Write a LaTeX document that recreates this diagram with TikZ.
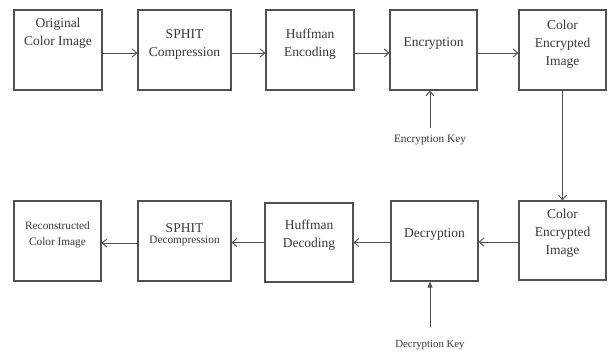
\documentclass[tikz,border=0pt]{standalone}
\usepackage{fontspec}
\setmainfont{Liberation Serif}
\usetikzlibrary{arrows.meta}
\definecolor{ln}{HTML}{505050}
\definecolor{tx}{HTML}{383838}
\begin{document}
\begin{tikzpicture}[x=1pt,y=-1pt,
  blk/.style={draw=ln,line width=1.2pt,minimum height=80pt,inner sep=0pt,fill=white},
  big/.style={text=tx,align=center,font=\fontsize{13.5}{18}\selectfont},
  small/.style={text=tx,align=center,font=\fontsize{11.3}{16}\selectfont},
  arr/.style={draw=ln,line width=0.9pt,-{Straight Barb[length=4.5pt,width=8pt,line width=0.9pt]}},
  farr/.style={draw=ln,line width=0.9pt,-{Triangle[length=6pt,width=5pt]}}]
\useasboundingbox (0,0) rectangle (608,351);
\fill[white] (0,0) rectangle (608,351);
% top row boxes
\node[blk,minimum width=88pt] (b1) at (58,50) {};
\node[blk,minimum width=93pt] (b2) at (184.5,50) {};
\node[blk,minimum width=88pt] (b3) at (310,50) {};
\node[blk,minimum width=87pt] (b4) at (433.5,50) {};
\node[blk,minimum width=87pt] (b5) at (562.5,50) {};
% bottom row boxes
\node[blk,minimum width=87pt,minimum height=79pt] (b6) at (562.5,240.5) {};
\node[blk,minimum width=87pt] (b7) at (434.5,241) {};
\node[blk,minimum width=88pt,minimum height=79pt] (b8) at (309,242.5) {};
\node[blk,minimum width=93pt] (b9) at (184.5,241) {};
\node[blk,minimum width=87pt] (b10) at (57.5,241) {};
% texts
\node[big] (t1) at (58,33) {Original\\Color Image};
\node[big] (t2) at (184.5,44) {SPHIT\\Compression};
\node[big] (t3) at (310,44) {Huffman\\Encoding};
\node[big] (t4) at (433.5,43) {Encryption};
\node[big] (t5) at (562.5,44) {Color\\Encrypted\\Image};
\node[big] (t6) at (562.5,233) {Color\\Encrypted\\Image};
\node[big] (t7) at (434.5,234) {Decryption};
\node[big] (t8) at (309,235) {Huffman\\Decoding};
\node[text=tx,align=center] (t9) at (184.5,235) {{\fontsize{13.5}{18}\selectfont SPHIT}\\[-1pt]{\fontsize{11.3}{14}\selectfont Decompression}};
\node[small] (t10) at (57.5,235) {Reconstructed\\Color Image};
% keys
\node[text=tx,font=\fontsize{11.3}{14}\selectfont] (ek) at (430,140) {Encryption Key};
\node[text=tx,font=\fontsize{10.8}{14}\selectfont] (dk) at (430,345) {Decryption Key};
\coordinate (eks) at (430,128);
\coordinate (dks) at (430,327);
% connectors
\draw[arr] ([yshift=-3pt]b1.east) -- ([yshift=-3pt]b2.west);
\draw[arr] ([yshift=-3pt]b2.east) -- ([yshift=-3pt]b3.west);
\draw[arr] ([yshift=-3pt]b3.east) -- ([yshift=-3pt]b4.west);
\draw[arr] ([yshift=-3pt]b4.east) -- ([yshift=-3pt]b5.west);
\draw[arr] (b5.south) -- (b6.north);
\draw[arr] ([yshift=-1.5pt]b6.west) -- ([yshift=-1.5pt]b6.west -| b7.east);
\draw[arr] ([yshift=-1.5pt]b7.west) -- ([yshift=-1.5pt]b7.west -| b8.east);
\draw[arr] ([yshift=-1.5pt]b7.west -| b8.west) -- ([yshift=-1.5pt]b7.west -| b9.east);
\draw[arr] ([yshift=-2pt]b9.west) -- ([yshift=-2pt]b9.west -| b10.east);
\draw[arr] (eks) -- (eks |- b4.south);
\draw[farr] (dks) -- (dks |- b7.south);
\end{tikzpicture}
\end{document}
